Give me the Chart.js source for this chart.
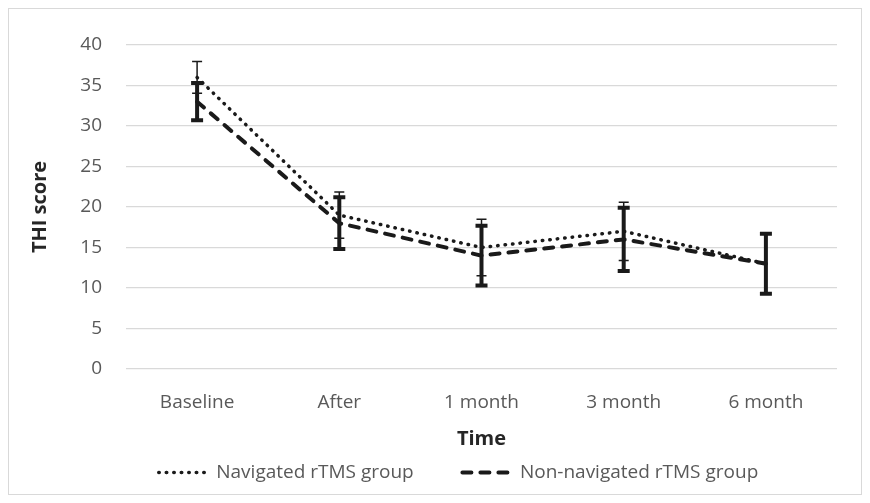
<!DOCTYPE html>
<html>
<head>
<meta charset="utf-8">
<script src="https://cdn.jsdelivr.net/npm/chart.js@4"></script>
<style>
  html, body { margin: 0; padding: 0; background: #fff; }
  #wrap { position: relative; width: 870px; height: 503px; }
  #frame { position: absolute; left: 8px; top: 8px; width: 852px; height: 485px; border: 1px solid #d9d9d9; pointer-events: none; }
  canvas { position: absolute; left: 0; top: 0; }
</style>
</head>
<body>
<div id="wrap">
  <canvas id="c" width="870" height="503"></canvas>
  <div id="frame"></div>
</div>
<script>
const categories = ['Baseline', 'After', '1 month', '3 month', '6 month'];
const navigatedMean = [36, 19, 15, 17, 13];
const navigatedErr = [1.95, 2.85, 3.5, 3.6, 3.7];
const nonNavigatedMean = [33, 18, 14, 16, 13];
const nonNavigatedErr = [2.3, 3.2, 3.7, 3.9, 3.7];
const yTicks = [0, 5, 10, 15, 20, 25, 30, 35, 40];

const FONT = "'Open Sans', 'Noto Sans', sans-serif";
const LINE = '#1a1a1a';

const errorBarPlugin = {
  id: 'errorBars',
  afterDatasetsDraw(chart) {
    const ctx = chart.ctx;
    const xs = chart.scales.x, ys = chart.scales.y;
    chart.data.datasets.forEach((ds) => {
      const err = ds.errors;
      const lw = ds.errWidth, half = ds.capHalf, capH = ds.capWidth;
      ctx.save();
      ctx.strokeStyle = LINE;
      ctx.setLineDash([]);
      ds.data.forEach((v, i) => {
        const x = xs.getPixelForValue(i);
        const yt = ys.getPixelForValue(v + err[i]);
        const yb = ys.getPixelForValue(v - err[i]);
        ctx.lineWidth = lw;
        ctx.beginPath();
        ctx.moveTo(x, yt); ctx.lineTo(x, yb);
        ctx.stroke();
        ctx.lineWidth = capH;
        ctx.beginPath();
        ctx.moveTo(x - half, yt); ctx.lineTo(x + half, yt);
        ctx.moveTo(x - half, yb); ctx.lineTo(x + half, yb);
        ctx.stroke();
      });
      ctx.restore();
    });
  }
};

const legendShift = {
  id: 'legendShift',
  afterLayout(chart) {
    const lg = chart.legend;
    if (lg) { lg.left += 28; lg.right += 28; lg.top -= 9; lg.bottom -= 9; }
  }
};

new Chart(document.getElementById('c'), {
  type: 'line',
  data: {
    labels: categories,
    datasets: [
      {
        label: 'Navigated rTMS group',
        data: navigatedMean,
        errors: navigatedErr,
        errWidth: 1.5, capHalf: 5, capWidth: 1.5,
        borderColor: LINE,
        borderWidth: 3.5,
        borderDash: [0.5, 7],
        borderCapStyle: 'round',
        pointRadius: 0,
        tension: 0,
        fill: false
      },
      {
        label: 'Non-navigated rTMS group',
        data: nonNavigatedMean,
        errors: nonNavigatedErr,
        errWidth: 4, capHalf: 6, capWidth: 4,
        borderColor: LINE,
        borderWidth: 4,
        borderDash: [9, 9],
        borderCapStyle: 'round',
        pointRadius: 0,
        tension: 0,
        fill: false
      }
    ]
  },
  options: {
    responsive: false,
    animation: false,
    layout: { padding: { left: 24, right: 33, top: 45, bottom: 2 } },
    scales: {
      x: {
        offset: true,
        grid: { display: false, drawTicks: false, offset: true },
        border: { display: false },
        ticks: { color: '#595959', font: { family: FONT, size: 19 }, padding: 22 },
        title: { display: true, text: 'Time', color: '#262626', font: { family: FONT, size: 20, weight: 'bold' }, padding: { top: 0, bottom: -3 } },
        afterFit(s) { s.height = 79; }
      },
      y: {
        min: 0, max: 40,
        afterBuildTicks(s) { s.ticks = yTicks.map(v => ({ value: v })); },
        grid: { color: '#d9d9d9', lineWidth: 1.3, drawTicks: false },
        border: { display: false },
        ticks: { color: '#595959', font: { family: FONT, size: 19 }, padding: 24 },
        title: { display: true, text: 'THI score', color: '#262626', font: { family: FONT, size: 20, weight: 'bold' }, padding: { top: 4, bottom: 4 } },
        afterFit(s) { s.width = 102; }
      }
    },
    plugins: {
      legend: {
        position: 'bottom',
        labels: {
          color: '#595959',
          font: { family: FONT, size: 19 },
          usePointStyle: true,
          pointStyleWidth: 48,
          boxWidth: 48,
          boxHeight: 8,
          padding: 24,
          generateLabels(chart) {
            return chart.data.datasets.map((ds, i) => ({
              text: i === 0 ? ds.label + '     ' : ds.label,
              datasetIndex: i,
              pointStyle: 'line',
              strokeStyle: LINE,
              fillStyle: LINE,
              lineWidth: ds.borderWidth,
              lineDash: ds.borderDash,
              lineCap: 'round',
              hidden: false,
              fontColor: '#595959'
            }));
          }
        }
      },
      tooltip: { enabled: false }
    }
  },
  plugins: [errorBarPlugin, legendShift]
});
</script>
</body>
</html>
